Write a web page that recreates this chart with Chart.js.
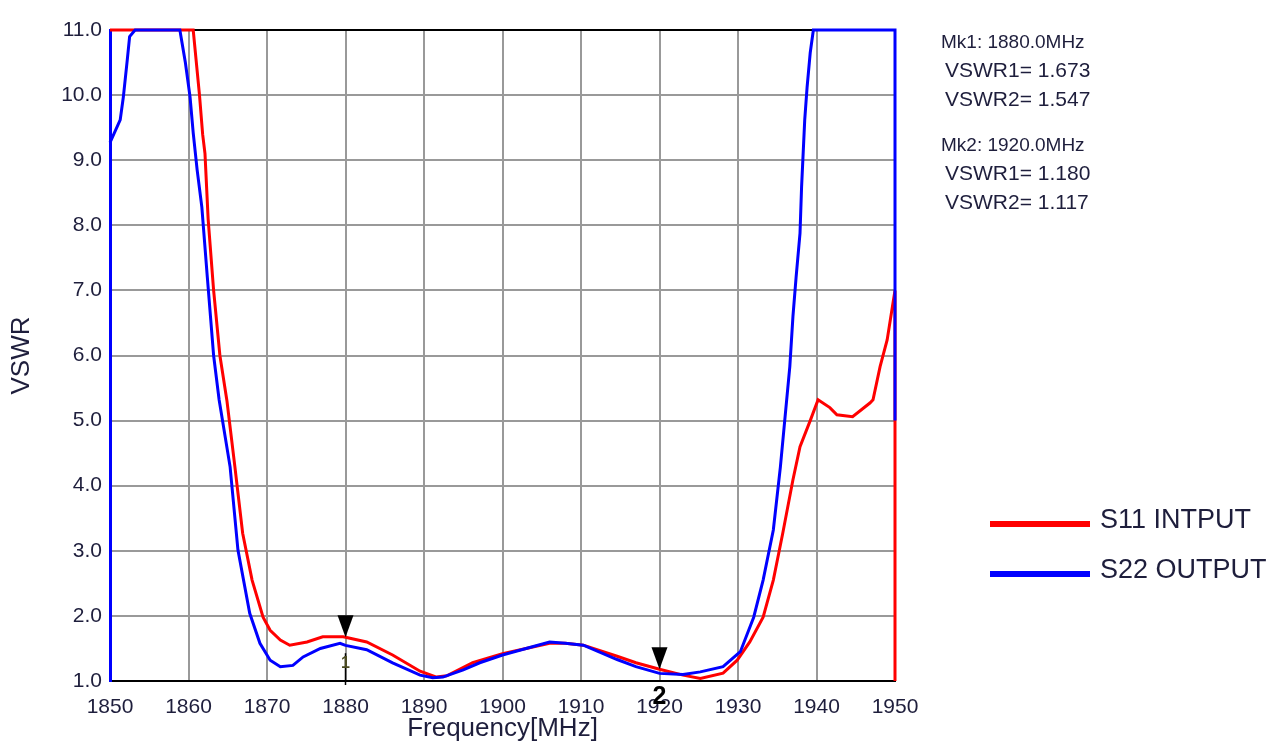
<!DOCTYPE html>
<html>
<head>
<meta charset="utf-8">
<script src="https://cdn.jsdelivr.net/npm/chart.js@4.4.1/dist/chart.umd.min.js"></script>
<style>
  html, body { margin: 0; padding: 0; background: #fff; }
  #wrap { width: 1283px; height: 747px; position: relative; }
</style>
</head>
<body>
<div id="wrap"><canvas id="vswr"></canvas></div>
<script>
// S11 (input) trace, MHz / VSWR
const S11_FREQ = [1850, 1860.6, 1861.0, 1861.4, 1861.8, 1862.1, 1862.5, 1863.2, 1864.0, 1864.9, 1865.9,
  1866.9, 1868.1, 1869.5, 1870.4, 1871.7, 1872.9, 1875.1, 1877.1, 1879.7, 1880, 1882.7, 1886,
  1889.5, 1891.6, 1892.9, 1896.2, 1900, 1903, 1906, 1908, 1910.3, 1914.6, 1917, 1920, 1923,
  1925.2, 1928.1, 1929.9, 1931.5, 1933.2, 1934.5, 1935.7, 1937, 1937.9, 1939.2, 1940.2, 1941.7,
  1942.6, 1944.6, 1946.8, 1947.2, 1948.1, 1949, 1949.8, 1950, 1950];
const S11_VSWR = [11, 11, 10.5, 10.0, 9.4, 9.1, 8.1, 7.0, 6.0, 5.3, 4.3,
  3.27, 2.55, 1.98, 1.78, 1.63, 1.55, 1.6, 1.68, 1.68, 1.673, 1.6, 1.4,
  1.15, 1.06, 1.08, 1.28, 1.42, 1.5, 1.58, 1.58, 1.55, 1.38, 1.28, 1.18, 1.09,
  1.04, 1.12, 1.32, 1.6, 1.98, 2.55, 3.27, 4.09, 4.6, 5.0, 5.32, 5.2,
  5.09, 5.06, 5.27, 5.32, 5.83, 6.24, 6.85, 7.0, 1.0];

// S22 (output) trace
const S22_FREQ = [1850, 1851.3, 1851.7, 1852.2, 1852.5, 1853.2, 1858.9, 1859.6, 1860.2, 1860.6, 1861.1,
  1861.7, 1862.4, 1863.2, 1863.9, 1865.3, 1866.3, 1867.8, 1869.1, 1870.4, 1871.7, 1873.3, 1874.6,
  1876.8, 1879.3, 1880, 1882.7, 1886, 1889.5, 1891.1, 1892.4, 1895, 1897.1, 1900, 1903, 1906,
  1908, 1910.3, 1914.6, 1917, 1920, 1923, 1925.2, 1928.1, 1930.3, 1932, 1933.2, 1934.5, 1935.4,
  1936, 1936.6, 1937, 1937.4, 1937.9, 1938.1, 1938.5, 1938.8, 1939.2, 1939.6, 1950, 1950];
const S22_VSWR = [9.27, 9.62, 9.97, 10.54, 10.9, 11, 11, 10.5, 9.97, 9.42, 8.85,
  8.28, 7.2, 6.0, 5.32, 4.29, 3.01, 2.04, 1.58, 1.32, 1.22, 1.24, 1.37,
  1.5, 1.58, 1.547, 1.48, 1.28, 1.09, 1.05, 1.06, 1.17, 1.28, 1.4, 1.5, 1.6,
  1.58, 1.55, 1.33, 1.22, 1.117, 1.1, 1.14, 1.22, 1.45, 1.98, 2.55, 3.32, 4.29,
  5.06, 5.83, 6.6, 7.2, 7.88, 8.59, 9.62, 10.12, 10.65, 11, 11, 5.0];

// markers
const MK_NAMES = ['1', '2'];
const MK_FREQ = [1880.0, 1920.0];
const MK_VSWR1 = [1.673, 1.180];
const MK_VSWR2 = [1.547, 1.117];

const SERIES_NAMES = ['S22 OUTPUT', 'S11 INTPUT'];
const RED = '#ff0000', BLUE = '#0000ff';
const FONT = "'Liberation Sans', Arial, sans-serif";
const TXT = '#1e1e3c';

const toPts = (fs, vs) => fs.map((f, i) => ({ x: f, y: vs[i] }));

// triangles + numbers on the traces, readout and legend on the right
const markerPlugin = {
  id: 'markers',
  afterDatasetsDraw(chart) {
    const { ctx, scales: { x, y } } = chart;
    ctx.save();
    MK_FREQ.forEach((f, i) => {
      const px = x.getPixelForValue(f);
      const py = y.getPixelForValue(MK_VSWR1[i]);
      ctx.fillStyle = '#000';
      ctx.beginPath();
      ctx.moveTo(px, py);
      ctx.lineTo(px - 8, py - 22);
      ctx.lineTo(px + 8, py - 22);
      ctx.closePath();
      ctx.fill();
    });
    // marker 1 stem and number
    const p1 = x.getPixelForValue(MK_FREQ[0]);
    ctx.strokeStyle = '#000';
    ctx.lineWidth = 1.5;
    ctx.beginPath();
    ctx.moveTo(p1, y.getPixelForValue(MK_VSWR1[0]) + 16);
    ctx.lineTo(p1, y.bottom + 4);
    ctx.stroke();
    ctx.fillStyle = '#4a4a20';
    ctx.font = 'bold 16px ' + FONT;
    ctx.textAlign = 'center';
    ctx.textBaseline = 'middle';
    ctx.fillText(MK_NAMES[0], p1, y.bottom - 17);
    ctx.restore();
  },
  afterDraw(chart) {
    const { ctx, scales: { x, y } } = chart;
    ctx.save();
    // marker 2 number sits over the tick label
    ctx.fillStyle = '#000';
    ctx.font = 'bold 25px ' + FONT;
    ctx.textAlign = 'center';
    ctx.textBaseline = 'middle';
    ctx.fillText(MK_NAMES[1], x.getPixelForValue(MK_FREQ[1]), y.bottom + 16);

    // readout
    ctx.textAlign = 'left';
    ctx.fillStyle = TXT;
    MK_FREQ.forEach((f, i) => {
      const top = 43 + i * 103;
      ctx.font = '19px ' + FONT;
      ctx.fillText('Mk' + MK_NAMES[i] + ': ' + f.toFixed(1) + 'MHz', 941, top);
      ctx.font = '21px ' + FONT;
      ctx.fillText('VSWR1= ' + MK_VSWR1[i].toFixed(3), 945, top + 28);
      ctx.fillText('VSWR2= ' + MK_VSWR2[i].toFixed(3), 945, top + 57);
    });

    // legend
    const items = [[SERIES_NAMES[1], RED], [SERIES_NAMES[0], BLUE]];
    items.forEach(([name, col], i) => {
      const ly = 524 + i * 50;
      ctx.fillStyle = col;
      ctx.fillRect(990, ly - 3, 100, 6);
      ctx.fillStyle = TXT;
      ctx.font = '27px ' + FONT;
      ctx.fillText(name, 1100, ly - 3);
    });
    ctx.restore();
  }
};

new Chart(document.getElementById('vswr'), {
  type: 'line',
  data: {
    datasets: [
      { label: SERIES_NAMES[0], data: toPts(S22_FREQ, S22_VSWR), borderColor: BLUE, borderWidth: 3, clip: 6 },
      { label: SERIES_NAMES[1], data: toPts(S11_FREQ, S11_VSWR), borderColor: RED, borderWidth: 3, clip: 6 }
    ]
  },
  options: {
    responsive: true,
    maintainAspectRatio: false,
    animation: false,
    elements: { point: { radius: 0 }, line: { tension: 0, borderJoinStyle: 'miter' } },
    layout: { padding: { top: 30, right: 388, left: 0, bottom: 0 } },
    plugins: { legend: { display: false }, tooltip: { enabled: false } },
    scales: {
      x: {
        type: 'linear', min: 1850, max: 1950,
        afterFit: s => { s.height = 66; },
        border: { color: '#000', width: 2 },
        grid: { color: '#999', lineWidth: 2, drawTicks: false },
        ticks: { stepSize: 10, padding: 14, color: TXT, font: { family: FONT, size: 21 },
                 callback: v => String(v) },
        title: { display: true, text: 'Frequency[MHz]', color: TXT, padding: { top: 0, bottom: 3 },
                 font: { family: FONT, size: 26 } }
      },
      y: {
        min: 1, max: 11,
        afterFit: s => { s.width = 110; },
        border: { color: BLUE, width: 3 },
        grid: {
          color: c => c.tick.value === 11 ? '#000' : '#999',
          lineWidth: 2, drawTicks: false
        },
        ticks: { stepSize: 1, padding: 8, color: TXT, font: { family: FONT, size: 21 },
                 callback: v => v.toFixed(1) },
        title: { display: true, text: 'VSWR', color: TXT, padding: { top: 6, bottom: 0 },
                 font: { family: FONT, size: 26 } }
      }
    }
  },
  plugins: [markerPlugin]
});
</script>
</body>
</html>
